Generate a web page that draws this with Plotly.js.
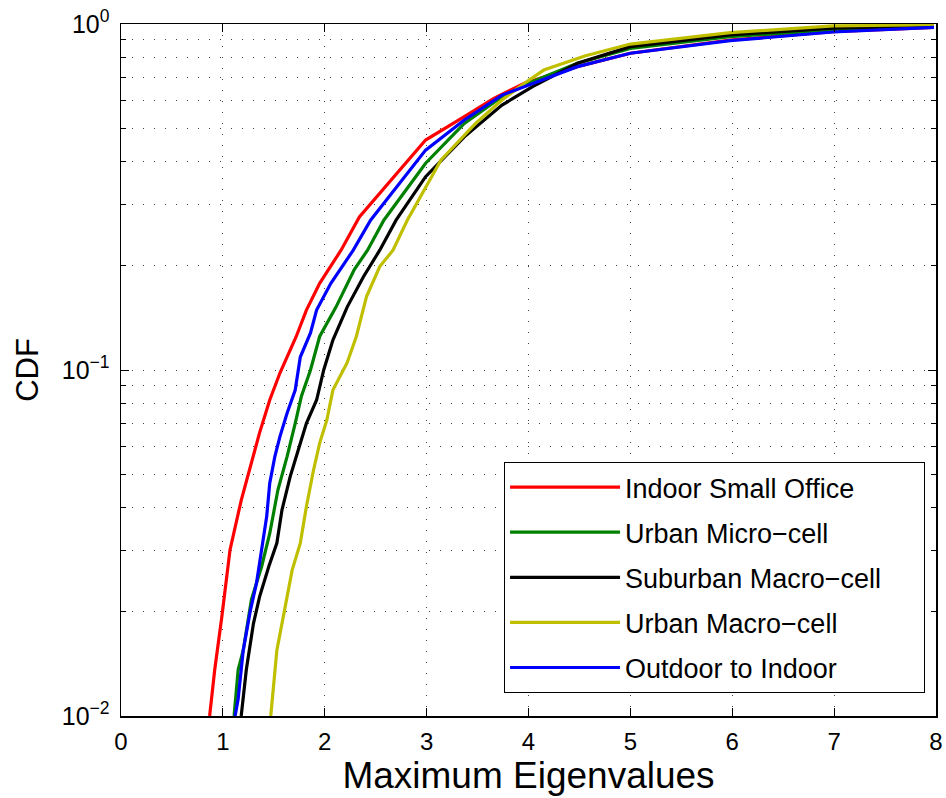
<!DOCTYPE html>
<html>
<head>
<meta charset="utf-8">
<script src="https://cdn.plot.ly/plotly-3.0.1.min.js"></script>
<style>html,body{margin:0;padding:0;background:#fff;}#chart{width:946px;height:798px;}</style>
</head>
<body>
<div id="chart"></div>
<script>
// Series names and colours
const seriesNames = ["Indoor Small Office", "Urban Micro\u2212cell", "Suburban Macro\u2212cell\u00a0\u00a0\u00a0\u00a0\u00a0", "Urban Macro\u2212cell", "Outdoor to Indoor"];
const seriesColors = ["#ff0000", "#008000", "#000000", "#bfbf00", "#0000ff"];

// Indoor Small Office
const indoorX = [0.87, 0.92, 0.99, 1.07, 1.18, 1.28, 1.36, 1.46, 1.56, 1.72, 1.82, 1.95, 2.16, 2.34, 2.62, 2.99, 3.37, 3.66, 3.96, 4.48, 5.0, 5.98, 6.99, 7.98];
const indoorY = [0.01, 0.0136, 0.0194, 0.0302, 0.042, 0.0538, 0.0658, 0.0819, 0.098, 0.125, 0.149, 0.178, 0.222, 0.277, 0.346, 0.462, 0.540, 0.610, 0.674, 0.753, 0.823, 0.899, 0.95, 0.978];

// Urban Micro-cell
const microX = [1.11, 1.15, 1.20, 1.28, 1.38, 1.46, 1.54, 1.63, 1.71, 1.77, 1.86, 1.95, 2.11, 2.29, 2.42, 2.58, 2.99, 3.37, 3.74, 4.0, 4.48, 5.0, 5.98, 6.99, 7.98];
const microY = [0.01, 0.0136, 0.0155, 0.0217, 0.027, 0.0337, 0.045, 0.0562, 0.0701, 0.0838, 0.1, 0.125, 0.152, 0.195, 0.222, 0.271, 0.396, 0.516, 0.616, 0.674, 0.77, 0.85, 0.919, 0.961, 0.98];

// Suburban Macro-cell
const suburbX = [1.18, 1.23, 1.30, 1.36, 1.45, 1.53, 1.58, 1.66, 1.74, 1.82, 1.92, 1.99, 2.08, 2.22, 2.38, 2.54, 2.70, 2.99, 3.37, 3.74, 4.04, 4.48, 5.0, 5.98, 6.99, 7.98];
const suburbY = [0.01, 0.0136, 0.0185, 0.0221, 0.027, 0.0316, 0.0394, 0.0491, 0.0587, 0.0701, 0.0819, 0.1, 0.122, 0.152, 0.186, 0.222, 0.271, 0.362, 0.472, 0.583, 0.659, 0.77, 0.86, 0.93, 0.972, 0.985];

// Urban Macro-cell
const macroX = [1.47, 1.53, 1.63, 1.68, 1.76, 1.82, 1.89, 1.95, 2.02, 2.08, 2.22, 2.31, 2.41, 2.54, 2.67, 2.81, 3.14, 3.48, 3.74, 3.96, 4.15, 4.56, 5.0, 5.98, 6.99, 7.98];
const macroY = [0.01, 0.0155, 0.0221, 0.0264, 0.0316, 0.0403, 0.0514, 0.0615, 0.0716, 0.0875, 0.105, 0.125, 0.163, 0.199, 0.222, 0.271, 0.404, 0.516, 0.603, 0.674, 0.736, 0.81, 0.875, 0.944, 0.987, 0.995];

// Outdoor to Indoor
const o2iX = [1.12, 1.15, 1.20, 1.27, 1.33, 1.38, 1.43, 1.46, 1.51, 1.56, 1.63, 1.71, 1.76, 1.86, 1.92, 2.06, 2.28, 2.45, 2.99, 3.37, 3.74, 4.48, 5.0, 5.98, 6.99, 7.98];
const o2iY = [0.01, 0.0112, 0.0155, 0.0202, 0.0242, 0.0302, 0.0377, 0.0471, 0.0562, 0.0642, 0.075, 0.0875, 0.109, 0.128, 0.149, 0.178, 0.222, 0.271, 0.432, 0.528, 0.623, 0.753, 0.823, 0.895, 0.948, 0.978];

// Axis ticks
const xTickVals = [0, 1, 2, 3, 4, 5, 6, 7, 8];
const yTickVals = [0.01, 0.1, 1];
const yTickText = ["10<sup>\u22122</sup>", "10<sup>\u22121</sup>", "10<sup>0</sup>"];
const yMinorVals = [0.02, 0.03, 0.04, 0.05, 0.06, 0.07, 0.08, 0.09, 0.2, 0.3, 0.4, 0.5, 0.6, 0.7, 0.8, 0.9];

const xs = [indoorX, microX, suburbX, macroX, o2iX];
const ys = [indoorY, microY, suburbY, macroY, o2iY];

const traces = seriesNames.map((name, i) => ({
  type: "scatter",
  mode: "lines",
  name: name,
  x: xs[i],
  y: ys[i],
  legendgroup: "g" + i,
  line: {color: seriesColors[i], width: 3.2}
}));

const font = "Liberation Sans, Arial, Helvetica, sans-serif";
const gridDash = "1px,10px";

const layout = {
  width: 946,
  height: 798,
  margin: {l: 121, r: 10, t: 24, b: 82},
  paper_bgcolor: "#ffffff",
  plot_bgcolor: "#ffffff",
  font: {family: font, color: "#000000", size: 24},
  showlegend: true,
  legend: {
    x: 0.47, y: 0.367, xanchor: "left", yanchor: "top",
    bgcolor: "#ffffff", bordercolor: "#000000", borderwidth: 1,
    font: {family: font, size: 27, color: "#000000"},
    traceorder: "grouped",
    tracegroupgap: 7,
    itemwidth: 110
  },
  xaxis: {
    range: [0, 8],
    tickmode: "array",
    tickvals: xTickVals,
    ticks: "inside",
    ticklen: 8,
    tickcolor: "#000000",
    showline: true,
    linecolor: "#000000",
    linewidth: 1.5,
    mirror: "ticks",
    showgrid: true,
    gridcolor: "#444444",
    gridwidth: 1,
    griddash: gridDash,
    zeroline: false,
    ticklabelstandoff: 4,
    tickfont: {family: font, size: 24},
    title: {text: "Maximum Eigenvalues", font: {family: font, size: 37}, standoff: 5}
  },
  yaxis: {
    type: "log",
    range: [-2, 0],
    tickmode: "array",
    tickvals: yTickVals,
    ticktext: yTickText,
    ticks: "inside",
    ticklen: 8,
    tickcolor: "#000000",
    showline: true,
    linecolor: "#000000",
    linewidth: 1.5,
    mirror: "ticks",
    showgrid: true,
    gridcolor: "#444444",
    gridwidth: 1,
    griddash: gridDash,
    zeroline: false,
    ticklabelstandoff: 5,
    tickfont: {family: font, size: 25},
    minor: {
      tickmode: "array",
      tickvals: yMinorVals,
      ticks: "inside",
      ticklen: 5,
      tickcolor: "#000000",
      showgrid: true,
      gridcolor: "#444444",
      gridwidth: 1,
      griddash: gridDash
    },
    title: {text: "CDF", font: {family: font, size: 31}, standoff: 14}
  }
};

Plotly.newPlot("chart", traces, layout, {displayModeBar: false, staticPlot: true});
</script>
</body>
</html>
